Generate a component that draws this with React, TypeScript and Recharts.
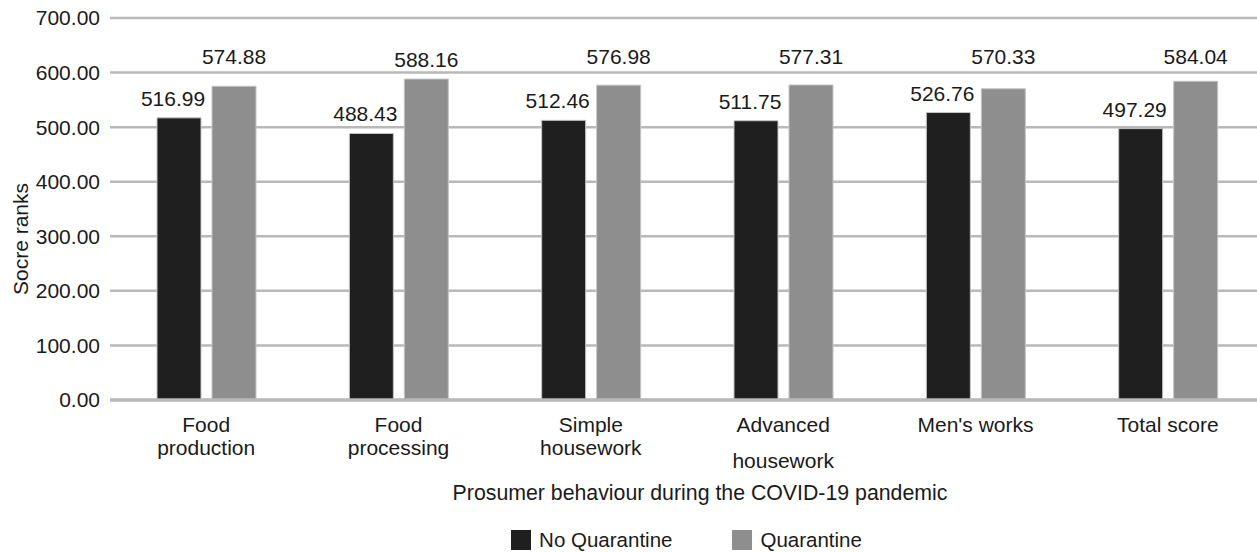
import { Bar, BarChart, CartesianGrid, LabelList, Legend, XAxis, YAxis } from "recharts";

const CATEGORIES = [
  "Food production",
  "Food processing",
  "Simple housework",
  "Advanced housework",
  "Men's works",
  "Total score",
];
const NO_QUARANTINE = [516.99, 488.43, 512.46, 511.75, 526.76, 497.29];
const QUARANTINE = [574.88, 588.16, 576.98, 577.31, 570.33, 584.04];
const Y_TICKS = [0, 100, 200, 300, 400, 500, 600, 700];

const SERIES = [
  { key: "noQuarantine", name: "No Quarantine", color: "#1f1f1f", dx: -6 },
  { key: "quarantine", name: "Quarantine", color: "#8e8e8e", dx: 0 },
];

const data = CATEGORIES.map((category, i) => ({
  category,
  noQuarantine: NO_QUARANTINE[i],
  quarantine: QUARANTINE[i],
}));

const FONT = "'Liberation Sans', Arial, sans-serif";
const TEXT = "#1a1a1a";
const GRID = "#b9b9b9";
const FS = 21;

// second line sits a bit lower on this one label in the original
const EXTRA_GAP: Record<string, number> = { "Advanced housework": 13 };

function CategoryTick(props: any) {
  const { x, y, payload } = props;
  const label: string = payload.value;
  const cut = label.indexOf(" ");
  const lines = label.length > 12 ? [label.slice(0, cut), label.slice(cut + 1)] : [label];
  return (
    <g>
      {lines.map((line, i) => (
        <text
          key={line}
          x={x}
          y={y + 24 + i * (23 + (EXTRA_GAP[label] ?? 0))}
          textAnchor="middle"
          fontSize={FS}
          fontFamily={FONT}
          fill={TEXT}
        >
          {line}
        </text>
      ))}
    </g>
  );
}

function XLabel(props: any) {
  const { viewBox } = props;
  return (
    <text
      x={viewBox.x + viewBox.width / 2 + 13}
      y={viewBox.y + 100}
      textAnchor="middle"
      fontSize={21.3}
      fontFamily={FONT}
      fill={TEXT}
    >
      Prosumer behaviour during the COVID-19 pandemic
    </text>
  );
}

function YLabel() {
  return (
    <text
      transform="translate(28,239) rotate(-90)"
      textAnchor="middle"
      fontSize={FS}
      fontFamily={FONT}
      fill={TEXT}
    >
      Socre ranks
    </text>
  );
}

// value labels are moved above a gridline when they would sit on it
function makeValueLabel(dx: number) {
  return (props: any) => {
    const { x, y, width, height, value } = props;
    const bottom = Number(y) + Number(height);
    const ppu = Number(height) / Number(value);
    let baseline = Number(y) - 12;
    for (const t of Y_TICKS) {
      const gy = bottom - t * ppu;
      if (baseline + 4 > gy && baseline - 16 < gy) baseline = gy - 9;
    }
    return (
      <text
        x={Number(x) + Number(width) / 2 + dx}
        y={baseline}
        textAnchor="middle"
        fontSize={FS}
        fontFamily={FONT}
        fill={TEXT}
      >
        {Number(value).toFixed(2)}
      </text>
    );
  };
}

function LegendContent() {
  return (
    <div
      style={{
        width: 1264,
        paddingLeft: 109,
        boxSizing: "border-box",
        display: "flex",
        justifyContent: "center",
        gap: 60,
        paddingTop: 20,
        fontFamily: FONT,
        fontSize: 20.5,
        color: TEXT,
      }}
    >
      {SERIES.map((s) => (
        <span key={s.key} style={{ display: "flex", alignItems: "center", gap: 8, lineHeight: "20px" }}>
          <span style={{ width: 20, height: 20, background: s.color, display: "inline-block" }} />
          {s.name}
        </span>
      ))}
    </div>
  );
}

export default function App() {
  return (
    <div style={{ width: 1257, height: 552, overflow: "hidden", background: "#fff" }}>
      <style>{`body{margin:0}`}</style>
      <BarChart
        width={1264}
        height={552}
        data={data}
        margin={{ top: 18, right: 0, bottom: 0, left: 0 }}
        barGap={11}
        barSize={44}
      >
        <CartesianGrid vertical={false} stroke={GRID} strokeWidth={2.5} />
        <XAxis
          dataKey="category"
          height={110}
          axisLine={{ stroke: GRID, strokeWidth: 3.5 }}
          tickLine={false}
          tick={<CategoryTick />}
          interval={0}
          label={<XLabel />}
        />
        <YAxis
          width={110}
          domain={[0, 700]}
          ticks={Y_TICKS}
          axisLine={false}
          tickLine={false}
          tickMargin={4}
          tickFormatter={(v: number) => v.toFixed(2)}
          tick={{ fontSize: FS, fontFamily: FONT, fill: TEXT }}
          label={<YLabel />}
        />
        <Legend verticalAlign="bottom" height={42} content={<LegendContent />} />
        {SERIES.map((s) => (
          <Bar
            key={s.key}
            dataKey={s.key}
            name={s.name}
            fill={s.color}
            stroke="#c4c4c4"
            strokeWidth={1}
            isAnimationActive={false}
          >
            <LabelList dataKey={s.key} content={makeValueLabel(s.dx)} />
          </Bar>
        ))}
      </BarChart>
    </div>
  );
}
